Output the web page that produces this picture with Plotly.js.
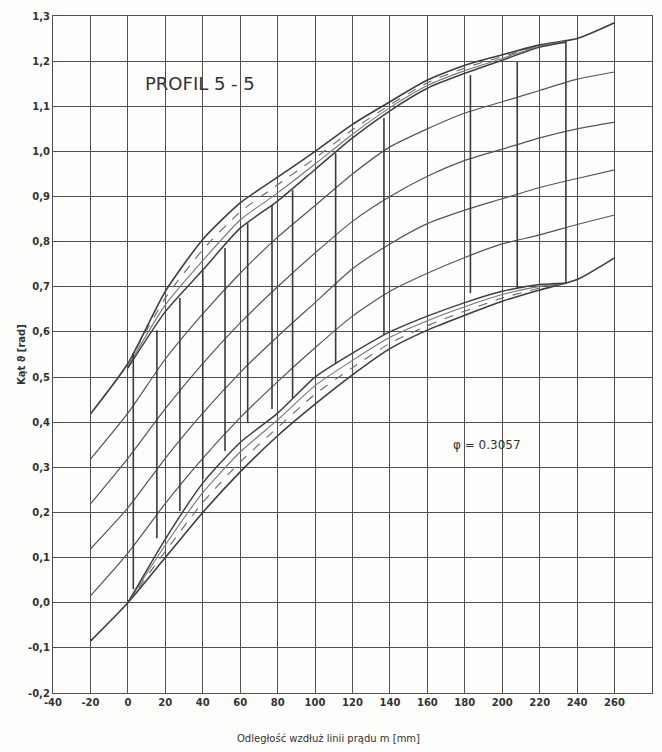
<!DOCTYPE html>
<html>
<head>
<meta charset="utf-8">
<script src="https://cdn.plot.ly/plotly-3.0.1.min.js"></script>
<style>
  html, body { margin: 0; padding: 0; background: #fdfdfb; }
  #chart { width: 662px; height: 752px; }
</style>
</head>
<body>
<div id="chart"></div>
<script>
// Stations along the streamline m [mm] for the six characteristic curves
const mStations = [-20, 0, 20, 40, 60, 80, 100, 120, 140, 160, 180, 200, 220, 240, 260];

// Angle theta [rad] of the six curves, lowest (c0) to highest (c5)
const c0 = [-0.085, 0.00, 0.10, 0.20, 0.29, 0.37, 0.44, 0.505, 0.563, 0.604, 0.637, 0.668, 0.693, 0.716, 0.764];
const c1 = [0.015, 0.11, 0.22, 0.32, 0.41, 0.49, 0.565, 0.635, 0.69, 0.73, 0.765, 0.795, 0.815, 0.838, 0.859];
const c2 = [0.119, 0.21, 0.32, 0.42, 0.51, 0.59, 0.665, 0.74, 0.795, 0.84, 0.87, 0.895, 0.92, 0.94, 0.959];
const c3 = [0.219, 0.32, 0.43, 0.53, 0.62, 0.70, 0.775, 0.845, 0.90, 0.945, 0.98, 1.005, 1.03, 1.05, 1.065];
const c4 = [0.318, 0.42, 0.54, 0.64, 0.73, 0.81, 0.88, 0.95, 1.01, 1.05, 1.085, 1.11, 1.135, 1.16, 1.176];
const c5 = [0.418, 0.53, 0.69, 0.805, 0.886, 0.943, 1.00, 1.06, 1.11, 1.158, 1.191, 1.214, 1.236, 1.25, 1.285];

// Stations of the two hatched bands
const bandM = [0, 20, 40, 60, 80, 100, 120, 140, 160, 180, 200, 220, 234];

// Upper band: lines below c5, from outer to inner edge
const upperA = [0.527, 0.675, 0.782, 0.866, 0.926, 0.985, 1.048, 1.103, 1.152, 1.185, 1.210, 1.234, 1.246];
const upperB = [0.523, 0.660, 0.758, 0.848, 0.908, 0.972, 1.038, 1.097, 1.146, 1.179, 1.206, 1.233, 1.244];
const upperC = [0.520, 0.645, 0.737, 0.830, 0.890, 0.960, 1.030, 1.090, 1.140, 1.173, 1.202, 1.231, 1.242];

// Lower band: lines above c0, from outer to inner edge
const lowerA = [0.0, 0.114, 0.222, 0.312, 0.388, 0.462, 0.521, 0.575, 0.614, 0.646, 0.675, 0.697, 0.708];
const lowerB = [0.0, 0.128, 0.244, 0.334, 0.405, 0.481, 0.537, 0.588, 0.625, 0.656, 0.683, 0.701, 0.708];
const lowerC = [0.0, 0.141, 0.265, 0.355, 0.420, 0.500, 0.553, 0.600, 0.635, 0.665, 0.690, 0.705, 0.708];

// Vertical connectors between the bands
const ribM      = [2.9, 15.5, 27.8, 40, 51.9, 64, 77, 88, 111, 136.8, 183, 208, 234];
const ribTop    = [0.553, 0.604, 0.675, 0.737, 0.786, 0.841, 0.881, 0.914, 0.996, 1.074, 1.169, 1.198, 1.247];
const ribBottom = [0.03, 0.143, 0.203, 0.274, 0.336, 0.398, 0.429, 0.453, 0.53, 0.593, 0.686, 0.697, 0.708];

// Axis ticks with decimal commas
const xTicks = [-40, -20, 0, 20, 40, 60, 80, 100, 120, 140, 160, 180, 200, 220, 240, 260, 280];
const yTicks = [-0.2, -0.1, 0, 0.1, 0.2, 0.3, 0.4, 0.5, 0.6, 0.7, 0.8, 0.9, 1.0, 1.1, 1.2, 1.3];
const yTickText = yTicks.map(v => v.toFixed(1).replace('.', ','));

const ink = '#464646';
const traces = [];

function line(xs, ys, width, dash, color) {
  traces.push({
    x: xs, y: ys, type: 'scatter', mode: 'lines',
    line: { color: color || ink, width: width, dash: dash || 'solid', shape: 'spline', smoothing: 0.6 },
    hoverinfo: 'skip', showlegend: false
  });
}

[c0, c1, c2, c3, c4, c5].forEach((ys, i) => {
  const edge = (i === 0 || i === 5);
  line(mStations, ys, edge ? 1.6 : 1.2, 'solid', edge ? '#3e3e3e' : '#555');
});

line(bandM, upperA, 1.1, 'dash', '#666');
line(bandM, upperB, 1.1, 'solid', '#777');
line(bandM, upperC, 1.5, 'solid', '#404040');
line(bandM, lowerA, 1.1, 'dash', '#666');
line(bandM, lowerB, 1.1, 'solid', '#777');
line(bandM, lowerC, 1.5, 'solid', '#404040');

// connectors drawn as one broken polyline
const rx = [], ry = [];
ribM.forEach((m, i) => { rx.push(m, m, null); ry.push(ribBottom[i], ribTop[i], null); });
traces.push({
  x: rx, y: ry, type: 'scatter', mode: 'lines',
  line: { color: '#3a3a3a', width: 1.6 },
  hoverinfo: 'skip', showlegend: false
});

const fam = 'DejaVu Sans, sans-serif';
const tickFont = { family: fam, size: 10, color: '#333', weight: 'bold' };

// plot area in pixels, used to place the axis captions
const mL = 53, mR = 10, mT = 16, mB = 59;
const pw = 662 - mL - mR, ph = 752 - mT - mB;

const layout = {
  width: 662, height: 752,
  margin: { l: mL, r: mR, t: mT, b: mB },
  paper_bgcolor: '#fdfdfb',
  plot_bgcolor: '#fdfdfb',
  showlegend: false,
  xaxis: {
    range: [-40, 280], tickvals: xTicks, ticktext: xTicks.map(String),
    showgrid: true, gridcolor: '#505050', gridwidth: 1.1,
    zeroline: false, showline: true, linecolor: '#505050', linewidth: 1.1, mirror: true,
    ticks: '', tickfont: tickFont
  },
  yaxis: {
    range: [-0.2, 1.3], tickvals: yTicks, ticktext: yTickText,
    showgrid: true, gridcolor: '#505050', gridwidth: 1.1,
    zeroline: false, showline: true, linecolor: '#505050', linewidth: 1.1, mirror: true,
    ticks: '', tickfont: tickFont
  },
  annotations: [
    { x: 38.5, y: 1.15, xref: 'x', yref: 'y', text: 'PROFIL 5 - 5', showarrow: false,
      font: { family: fam, size: 18, color: '#333' } },
    { x: 192, y: 0.35, xref: 'x', yref: 'y', text: 'φ = 0.3057', showarrow: false,
      font: { family: fam, size: 12, color: '#333' } },
    { x: (328 - mL) / pw, y: (752 - mB - 738) / ph, xref: 'paper', yref: 'paper',
      xanchor: 'center', yanchor: 'middle',
      text: 'Odległość wzdłuż linii prądu m [mm]', showarrow: false,
      font: { family: fam, size: 10, color: '#333' } },
    { x: (22 - mL) / pw, y: (752 - mB - 355) / ph, xref: 'paper', yref: 'paper',
      xanchor: 'center', yanchor: 'middle',
      text: 'Kąt ϑ [rad]', textangle: -90, showarrow: false,
      font: { family: fam, size: 10, color: '#333', weight: 'bold' } }
  ]
};

Plotly.newPlot('chart', traces, layout, { displayModeBar: false, staticPlot: true });
</script>
</body>
</html>
